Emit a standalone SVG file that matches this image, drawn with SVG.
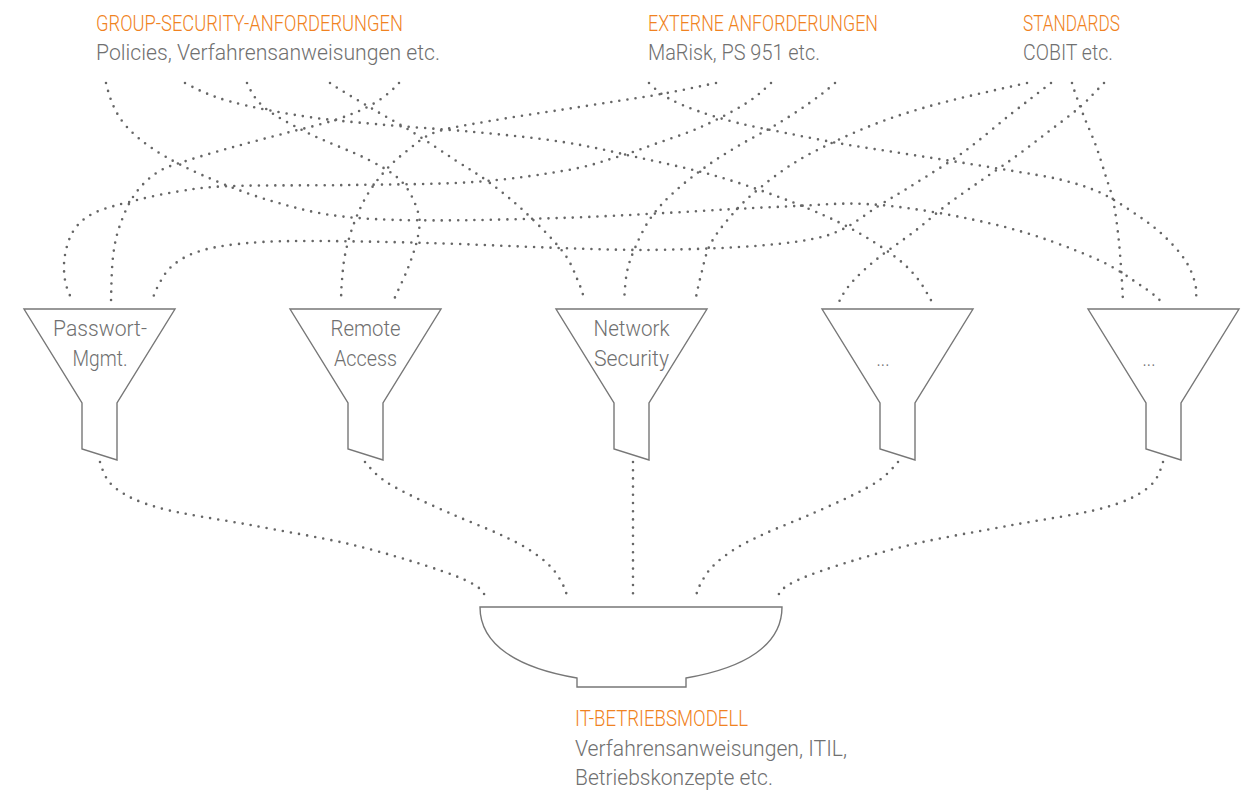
<svg xmlns="http://www.w3.org/2000/svg" xmlns:xlink="http://www.w3.org/1999/xlink" width="1242" height="794" viewBox="0 0 1242 794">
  <style>
    .t { font-family: Roboto, "Liberation Sans", Arial, sans-serif; font-size: 22px; font-weight: 300; }
    .head { fill: #f08221; }
    .body { fill: #707070; }
    .mid { text-anchor: middle; }
    .shape { fill: #ffffff; stroke: #777777; stroke-width: 1.4; stroke-linejoin: miter; }
    .link { fill: none; stroke: #666666; stroke-width: 2.6; stroke-linecap: round; stroke-dasharray: 0 8.2; }
  </style>
  <defs>
    <!-- funnel outline, centred on x = 0 -->
    <path id="funnel" d="M-75.5,309 H75.5 L17.5,403 V460 L-17.5,449 V403 Z"/>
  </defs>

  <rect width="1242" height="794" fill="#ffffff"/>

  <!-- requirement sources -->
  <g id="source-group-security">
    <text class="t head" x="96" y="31" textLength="307" lengthAdjust="spacingAndGlyphs">GROUP-SECURITY-ANFORDERUNGEN</text>
    <text class="t body" x="96" y="60" textLength="344" lengthAdjust="spacingAndGlyphs">Policies, Verfahrensanweisungen etc.</text>
  </g>
  <g id="source-externe">
    <text class="t head" x="648" y="31" textLength="230" lengthAdjust="spacingAndGlyphs">EXTERNE ANFORDERUNGEN</text>
    <text class="t body" x="648" y="60" textLength="172" lengthAdjust="spacingAndGlyphs">MaRisk, PS 951 etc.</text>
  </g>
  <g id="source-standards">
    <text class="t head" x="1023" y="31" textLength="97" lengthAdjust="spacingAndGlyphs">STANDARDS</text>
    <text class="t body" x="1023" y="60" textLength="90" lengthAdjust="spacingAndGlyphs">COBIT etc.</text>
  </g>

  <!-- dotted connectors -->
  <g id="connectors">
    <path class="link" d="M106,83 C109.5,97.5 114.5,113.3 127,127 C139.5,140.7 156.3,152.5 181,165 C205.7,177.5 243,193 275,202 C307,211 325.5,216.3 373,219 C420.5,221.7 493,220 560,218 C627,216 721.7,209.2 775,207 C828.3,204.8 842.3,201.8 880,205 C917.7,208.2 965.3,217.2 1001,226 C1036.7,234.8 1070.3,247.8 1094,258 C1117.7,268.2 1131.7,279.7 1143,287 C1154.3,294.3 1155.7,297 1162,302"/>
    <path class="link" d="M185,83 C200.3,91.1 211.2,96.2 231,101.7 C250.8,107.2 279.5,112.5 304,116.3 C328.5,120.1 349.7,121.7 378,124.3 C406.3,126.9 443.2,129.1 474,132 C504.8,134.9 536,137.8 563,142 C590,146.2 610.5,151.3 636,157 C661.5,162.7 690,168.5 716,176 C742,183.5 769.7,193.3 792,202 C814.3,210.7 833,219 850,228 C867,237 882.8,247.7 894,256 C905.2,264.3 910.7,270.3 917,278 C923.3,285.7 927.8,294.8 932,302"/>
    <path class="link" d="M247,83 C251.2,91.8 254.8,99.7 265,108 C275.2,116.3 290.7,124.3 308,133 C325.3,141.7 353.3,151.8 369,160 C384.7,168.2 393.8,173.3 402,182 C410.2,190.7 415.3,203 418,212 C420.7,221 419.7,226.7 418,236 C416.3,245.3 412.2,257 408,268 C403.8,279 396.8,292.5 393,302"/>
    <path class="link" d="M330,83 C341.8,91 357,99.7 371,108 C385,116.3 400,124.3 414,133 C428,141.7 442.3,151.7 455,160 C467.7,168.3 478.2,174.2 490,183 C501.8,191.8 513.8,201.5 526,213 C538.2,224.5 554.3,240.7 563,252 C571.7,263.3 574.3,272.7 578,281 C581.7,289.3 583,294.7 585,302"/>
    <path class="link" d="M399,83 C392.8,90 383.7,97.8 373,104 C362.3,110.2 349.5,115.2 335,120 C320.5,124.8 302.3,128.7 286,133 C269.7,137.3 253.2,141.5 237,146 C220.8,150.5 202.2,155.7 189,160 C175.8,164.3 167,166.3 158,172 C149,177.7 141.3,185.2 135,194 C128.7,202.8 123.7,214.5 120,225 C116.3,235.5 114.5,244.2 113,257 C111.5,269.8 111.3,289.8 111,302"/>
    <path class="link" d="M716,83 C699.7,86.3 683.3,90 667,93 C650.7,96 635.8,98.2 618,101 C600.2,103.8 581.3,106.7 560,110 C538.7,113.3 510.7,117.3 490,121 C469.3,124.7 449.7,127.2 436,132 C422.3,136.8 416.5,143.5 408,150 C399.5,156.5 392,163.2 385,171 C378,178.8 371.3,187.8 366,197 C360.7,206.2 356.5,216.3 353,226 C349.5,235.7 346.8,246 345,255 C343.2,264 342.7,272.2 342,280 C341.3,287.8 341.2,293.7 341,302"/>
    <path class="link" d="M771,83 C762.7,90.8 756.7,96.7 745,104 C733.3,111.3 716,120.3 701,127 C686,133.7 669,139 655,144 C641,149 631.5,152.7 617,157 C602.5,161.3 591.8,165.8 568,170 C544.2,174.2 510.3,179.5 474,182 C437.7,184.5 390.3,184.3 350,185 C309.7,185.7 260.2,185 232,186 C203.8,187 197.5,188.5 181,191 C164.5,193.5 147.5,197.3 133,201 C118.5,204.7 103.8,208.2 94,213 C84.2,217.8 78.8,223 74,230 C69.2,237 66.5,246.7 65,255 C63.5,263.3 63.7,272.2 65,280 C66.3,287.8 69.7,295.3 73,302"/>
    <path class="link" d="M1051,83 C1037.8,93.3 1025.3,102.7 1011,114 C996.7,125.3 980.8,139.5 965,151 C949.2,162.5 930.2,174 916,183 C901.8,192 892.2,197.3 880,205 C867.8,212.7 855.2,223.2 843,229 C830.8,234.8 824.2,237 807,240 C789.8,243 767.3,245.3 740,247 C712.7,248.7 673,249.8 643,250 C613,249.8 595.8,249.2 560,248 C524.2,246.8 471.3,244.2 428,243 C384.7,241.8 331.7,240.8 300,241 C268.3,241.2 255.2,242.2 238,244 C220.8,245.8 208.2,248.2 197,252 C185.8,255.8 177.7,261 171,267 C164.3,273 160.2,282.2 157,288 C153.8,293.8 153.7,296.7 152,302"/>
    <path class="link" d="M835,83 C826.3,90.7 818.2,96.8 808,104 C797.8,111.2 785.7,119 774,126 C762.3,133 749.7,139 738,146 C726.3,153 715,160 704,168 C693,176 681,185.5 672,194 C663,202.5 656.2,210 650,219 C643.8,228 638.8,239.2 635,248 C631.2,256.8 628.8,263 627,272 C625.2,281 624.7,292.3 624,302"/>
    <path class="link" d="M1027,83 C1010.7,86.7 994.2,90.2 978,94 C961.8,97.8 945.8,101.5 930,106 C914.2,110.5 898.3,115.3 883,121 C867.7,126.7 852.8,133 838,140 C823.2,147 807.8,154.3 794,163 C780.2,171.7 765.7,183 755,192 C744.3,201 737.5,208.2 730,217 C722.5,225.8 714.8,235.3 710,245 C705.2,254.7 703.5,265.5 701,275 C698.5,284.5 696.8,293.2 695,302"/>
    <path class="link" d="M1072,83 C1074.8,92.8 1079,103.5 1083,114 C1087,124.5 1092.2,135.5 1096,146 C1099.8,156.5 1103.2,168 1106,177 C1108.8,186 1111,190.7 1113,200 C1115,209.3 1116.7,221.8 1118,233 C1119.3,244.2 1120.2,255.5 1121,267 C1121.8,278.5 1122.5,290.7 1123,302"/>
    <path class="link" d="M1104,83 C1096,91 1089.3,98.8 1080,107 C1070.7,115.2 1058.8,123.7 1048,132 C1037.2,140.3 1026,149 1015,157 C1004,165 993.2,172.2 982,180 C970.8,187.8 959.2,195.5 948,204 C936.8,212.5 926,222.5 915,231 C904,239.5 890.8,248.2 882,255 C873.2,261.8 867.7,266.7 862,272 C856.3,277.3 851.8,282 848,287 C844.2,292 842,295.7 839,302"/>
    <path class="link" d="M649,83 C655.3,89 659.8,93.3 668,98 C676.2,102.7 686.3,106.8 698,111 C709.7,115.2 723.3,119.3 738,123 C752.7,126.7 768.5,129.5 786,133 C803.5,136.5 824,140.7 843,144 C862,147.3 881.2,150 900,153 C918.8,156 937.2,158.7 956,161.7 C974.8,164.7 995.3,168 1013,171 C1030.7,174 1047.3,176.3 1062,180 C1076.7,183.7 1088.5,187.2 1101,193 C1113.5,198.8 1126.7,208 1137,215 C1147.3,222 1155,227.5 1163,235 C1171,242.5 1179.7,252 1185,260 C1190.3,268 1193.2,276 1195,283 C1196.8,290 1196.2,294.2 1196,302"/>

    <!-- funnels into the operating model -->
    <path class="link" d="M100,462 C102.8,470.9 105.6,480.6 115.7,488.3 C125.8,496 138,502.1 160.7,508.3 C183.4,514.5 220.6,519.4 252,525.3 C283.4,531.3 319.5,537.1 349,544 C378.5,550.9 408.3,560 429,566.7 C449.7,573.4 463.3,578.6 473,584 C482.7,589.4 483.3,593.3 487,599"/>
    <path class="link" d="M365,462 C369.8,467.5 374.5,473.5 382,479 C389.5,484.5 398,489 410,495 C422,501 439.2,508.5 454,515 C468.8,521.5 486.7,528.3 499,534 C511.3,539.7 519.5,543.7 528,549 C536.5,554.3 544.3,560.3 550,566 C555.7,571.7 559,577.5 562,583 C565,588.5 566.3,593.2 568,599"/>
    <path class="link" d="M633,462 V599"/>
    <path class="link" d="M898,462 C893.2,467.5 888.5,473.5 881,479 C873.5,484.5 865,489 853,495 C841,501 823.8,508.5 809,515 C794.2,521.5 776.3,528.3 764,534 C751.7,539.7 743.5,543.7 735,549 C726.5,554.3 718.7,560.3 713,566 C707.3,571.7 704,577.5 701,583 C698,588.5 696.7,593.2 695,599"/>
    <path class="link" d="M1163,462 C1160.2,470.9 1157.4,480.6 1147.3,488.3 C1137.2,496 1125,502.1 1102.3,508.3 C1079.6,514.5 1042.4,519.4 1011,525.3 C979.6,531.3 943.5,537.1 914,544 C884.5,550.9 854.7,560 834,566.7 C813.3,573.4 799.7,578.6 790,584 C780.3,589.4 779.7,593.3 776,599"/>
  </g>

  <!-- topic funnels -->
  <g id="funnel-passwort" transform="translate(99.5 0)">
    <use href="#funnel" xlink:href="#funnel" class="shape"/>
    <text class="t body mid" x="0.5" y="336" textLength="94" lengthAdjust="spacingAndGlyphs">Passwort-</text>
    <text class="t body mid" x="0.5" y="366" textLength="55" lengthAdjust="spacingAndGlyphs">Mgmt.</text>
  </g>
  <g id="funnel-remote-access" transform="translate(365.5 0)">
    <use href="#funnel" xlink:href="#funnel" class="shape"/>
    <text class="t body mid" x="0" y="336" textLength="70" lengthAdjust="spacingAndGlyphs">Remote</text>
    <text class="t body mid" x="0" y="366" textLength="63" lengthAdjust="spacingAndGlyphs">Access</text>
  </g>
  <g id="funnel-network-security" transform="translate(631.5 0)">
    <use href="#funnel" xlink:href="#funnel" class="shape"/>
    <text class="t body mid" x="0" y="336" textLength="76" lengthAdjust="spacingAndGlyphs">Network</text>
    <text class="t body mid" x="0" y="366" textLength="75" lengthAdjust="spacingAndGlyphs">Security</text>
  </g>
  <g id="funnel-more-1" transform="translate(897.5 0)">
    <use href="#funnel" xlink:href="#funnel" class="shape"/>
    <text class="t body mid" x="-14.5" y="366" textLength="13" lengthAdjust="spacingAndGlyphs">...</text>
  </g>
  <g id="funnel-more-2" transform="translate(1163.5 0)">
    <use href="#funnel" xlink:href="#funnel" class="shape"/>
    <text class="t body mid" x="-14.5" y="366" textLength="13" lengthAdjust="spacingAndGlyphs">...</text>
  </g>

  <!-- collecting bowl -->
  <g id="sink-it-betriebsmodell">
    <path class="shape" d="M480,607 H782 C782,645 745,668 686,678 V687 H577 V678 C518,668 480,645 480,607 Z"/>
    <text class="t head" x="575" y="726" textLength="173" lengthAdjust="spacingAndGlyphs">IT-BETRIEBSMODELL</text>
    <text class="t body" x="575" y="756" textLength="272" lengthAdjust="spacingAndGlyphs">Verfahrensanweisungen, ITIL,</text>
    <text class="t body" x="575" y="785" textLength="198" lengthAdjust="spacingAndGlyphs">Betriebskonzepte etc.</text>
  </g>
</svg>
